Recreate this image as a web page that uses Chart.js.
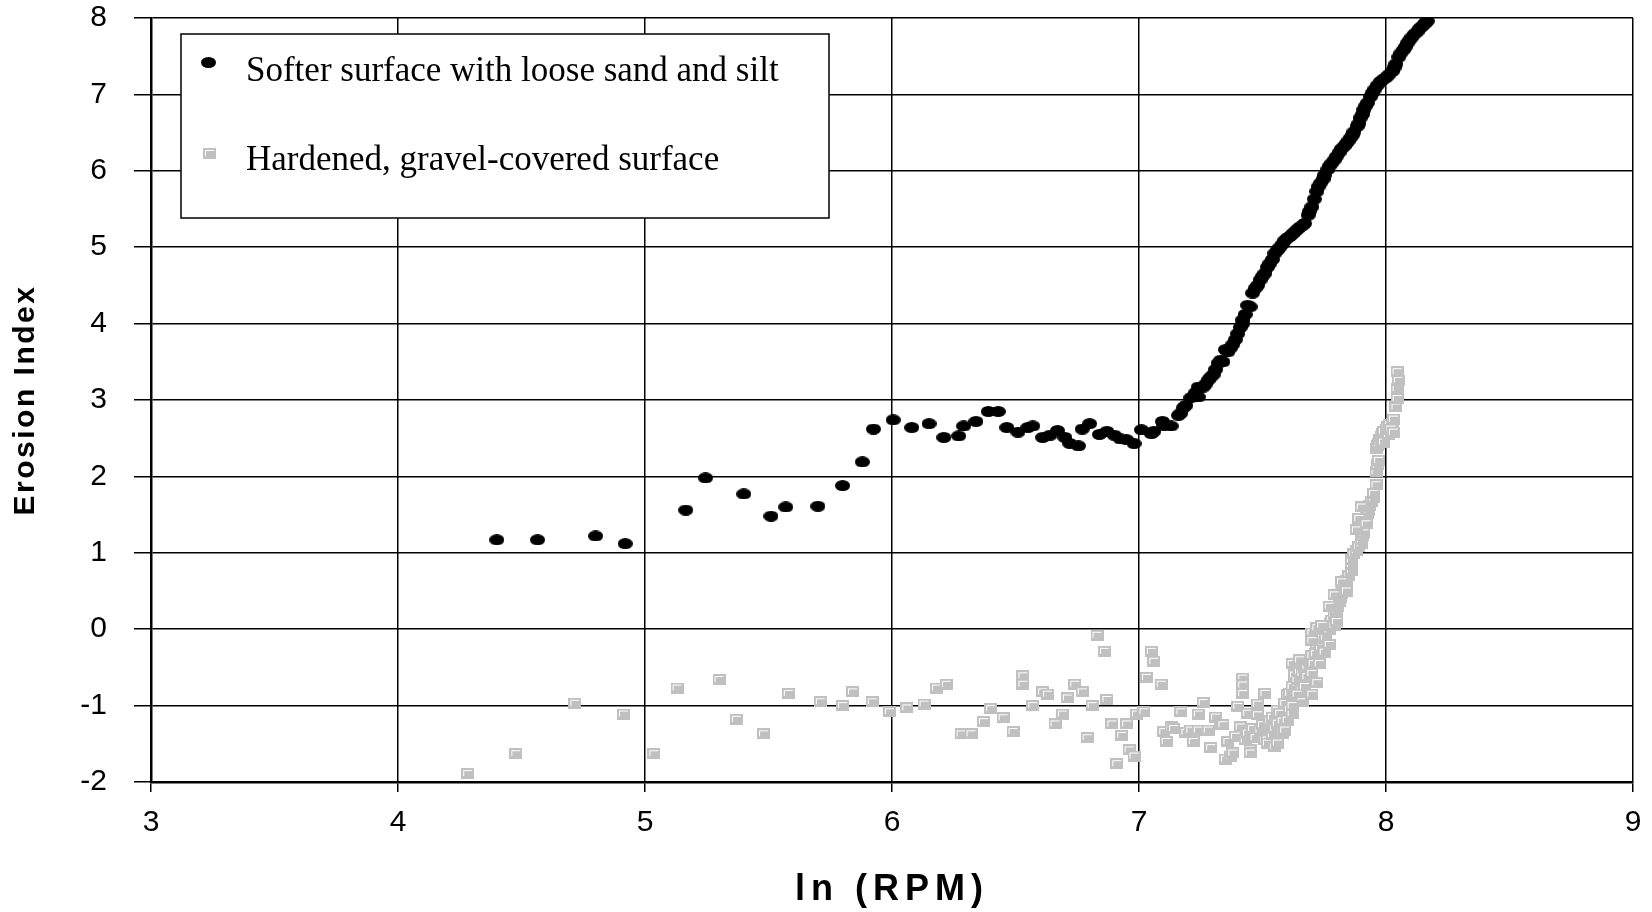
<!DOCTYPE html>
<html>
<head>
<meta charset="utf-8">
<script src="https://cdn.jsdelivr.net/npm/chart.js@4.4.1/dist/chart.umd.min.js"></script>
<style>
  html, body { margin: 0; padding: 0; background: #fff; }
</style>
</head>
<body>
<canvas id="erosionChart" width="1652" height="912"></canvas>
<script>
// series names (legend)
const seriesNames = ['Softer surface with loose sand and silt', 'Hardened, gravel-covered surface'];

// softer surface: ln(RPM) and erosion index
const softX = [4.40, 4.565, 4.80, 4.92, 5.165, 5.245, 5.40, 5.51, 5.57, 5.70, 5.80, 5.88, 5.925, 6.005, 6.08, 6.15,
  6.21, 6.27, 6.29, 6.34, 6.39, 6.43, 6.465, 6.51, 6.55, 6.57, 6.61, 6.64, 6.67, 6.70, 6.72, 6.755, 6.77, 6.80,
  6.84, 6.87, 6.90, 6.925, 6.95, 6.98, 7.01, 7.05, 7.06, 7.095, 7.10, 7.13, 7.16, 7.17, 7.18, 7.19, 7.21, 7.22,
  7.24, 7.24, 7.26, 7.28, 7.30, 7.32, 7.34, 7.36, 7.37, 7.39, 7.40, 7.42, 7.42, 7.44, 7.45, 7.46, 7.48, 7.49,
  7.51, 7.52, 7.54, 7.55, 7.57, 7.59, 7.61, 7.63, 7.65, 7.67, 7.685, 7.70, 7.71, 7.72, 7.735, 7.75, 7.765, 7.78,
  7.80, 7.82, 7.84, 7.856, 7.87, 7.883, 7.895, 7.91, 7.925, 7.937, 7.955, 7.978, 8.00, 8.025, 8.04, 8.052, 8.07,
  8.086, 8.105, 8.126, 8.145, 8.16, 8.167,
  7.23, 7.27, 7.29, 7.31, 7.33, 7.35, 7.38, 7.41, 7.43, 7.47, 7.50, 7.53, 7.56, 7.58, 7.60, 7.62, 7.64, 7.66,
  7.69, 7.725, 7.745, 7.77, 7.79, 7.81, 7.83, 7.85, 7.865, 7.89, 7.905, 7.918, 7.945, 7.965, 7.99, 8.012, 8.033,
  8.06, 8.078, 8.095, 8.115, 8.135, 8.155];
const softY = [1.17, 1.17, 1.22, 1.12, 1.56, 1.98, 1.77, 1.48, 1.60, 1.61, 1.88, 2.19, 2.62, 2.74, 2.64, 2.69,
  2.51, 2.53, 2.66, 2.72, 2.85, 2.85, 2.64, 2.58, 2.64, 2.66, 2.51, 2.54, 2.60, 2.51, 2.43, 2.40, 2.62, 2.69,
  2.55, 2.59, 2.54, 2.49, 2.48, 2.43, 2.61, 2.56, 2.59, 2.72, 2.67, 2.66, 2.80, 2.83, 2.90, 2.93, 3.03, 3.04,
  3.04, 3.17, 3.17, 3.26, 3.33, 3.48, 3.50, 3.63, 3.68, 3.79, 3.87, 4.00, 4.05, 4.24, 4.22, 4.40, 4.50, 4.57,
  4.66, 4.74, 4.84, 4.92, 5.00, 5.09, 5.14, 5.20, 5.26, 5.31, 5.42, 5.53, 5.63, 5.73, 5.84, 5.94, 6.02, 6.10,
  6.19, 6.29, 6.36, 6.43, 6.51, 6.58, 6.69, 6.80, 6.89, 6.97, 7.07, 7.17, 7.22, 7.30, 7.40, 7.49, 7.58,
  7.67, 7.75, 7.82, 7.89, 7.94, 7.96,
  3.10, 3.21, 3.30, 3.40, 3.52, 3.66, 3.73, 3.95, 4.12, 4.46, 4.62, 4.79, 4.96, 5.04, 5.12, 5.17, 5.23, 5.28,
  5.47, 5.79, 5.89, 6.06, 6.14, 6.24, 6.32, 6.40, 6.47, 6.62, 6.74, 6.85, 7.02, 7.12, 7.20, 7.26, 7.35,
  7.54, 7.62, 7.71, 7.79, 7.86, 7.92];

// hardened surface: ln(RPM) and erosion index
const hardX = [4.282, 4.477, 4.716, 4.913, 5.036, 5.13, 5.30, 5.37, 5.48, 5.58, 5.71, 5.80, 5.84, 5.92, 5.99, 6.06,
  6.13, 6.18, 6.22, 6.28, 6.32, 6.37, 6.40, 6.45, 6.49, 6.53, 6.53, 6.57, 6.61, 6.63, 6.66, 6.69, 6.71, 6.74,
  6.77, 6.79, 6.81, 6.83, 6.86, 6.87, 6.89, 6.91, 6.93, 6.95, 6.96, 6.98, 6.99, 7.02, 7.03, 7.05, 7.06, 7.09,
  7.10, 7.11, 7.13, 7.14, 7.17, 7.19, 7.21, 7.22, 7.24, 7.24, 7.26, 7.28, 7.29, 7.31, 7.33, 7.34, 7.35, 7.36,
  7.37, 7.38, 7.39, 7.40, 7.41, 7.42, 7.42, 7.42, 7.43, 7.44, 7.44, 7.45, 7.45, 7.46, 7.47, 7.48, 7.48, 7.49,
  7.50, 7.51, 7.51, 7.52, 7.52, 7.53, 7.54, 7.54, 7.55, 7.55, 7.56, 7.56, 7.56, 7.57, 7.58, 7.58, 7.59, 7.59,
  7.60, 7.60, 7.61, 7.61, 7.62, 7.62, 7.63, 7.63, 7.64, 7.64, 7.65, 7.66, 7.66, 7.67, 7.68, 7.68, 7.69, 7.70,
  7.705, 7.715, 7.72, 7.735, 7.74, 7.755, 7.76, 7.77, 7.775, 7.78, 7.79, 7.80, 7.805, 7.81, 7.815, 7.82, 7.825,
  7.83, 7.835, 7.84, 7.85, 7.86, 7.86, 7.86, 7.87, 7.88, 7.89, 7.90, 7.90, 7.905, 7.91, 7.92, 7.925, 7.93,
  7.935, 7.94, 7.95, 7.95, 7.96, 7.96, 7.965, 7.97, 7.96, 7.965, 7.97, 7.975, 7.98, 7.985, 7.99, 8.00, 8.005,
  8.015, 8.025, 8.03, 8.04, 8.045, 8.045, 8.05, 8.045,
  7.62, 7.65, 7.70, 7.73, 7.75, 7.77, 7.72, 7.67, 7.64, 7.66, 7.70, 7.62, 7.70, 7.72, 7.74, 7.79, 7.80, 7.70,
  7.77, 7.79, 7.84, 7.82, 7.88, 7.89, 7.90, 7.92, 7.99, 8.01, 8.02, 8.03];
const hardY = [-1.89, -1.63, -0.97, -1.11, -1.63, -0.77, -0.66, -1.18, -1.37, -0.84, -0.95, -1.00, -0.82, -0.95, -1.08, -1.03,
  -0.98, -0.77, -0.72, -1.37, -1.37, -1.21, -1.04, -1.16, -1.34, -0.61, -0.72, -1.00, -0.82, -0.85, -1.24, -1.11, -0.90, -0.72,
  -0.82, -1.42, -1.00, -0.08, -0.29, -0.92, -1.24, -1.76, -1.39, -1.24, -1.58, -1.66, -1.11, -1.08, -0.63, -0.29, -0.42, -0.72,
  -1.34, -1.47, -1.28, -1.30, -1.08, -1.35, -1.32, -1.47, -1.32, -1.11, -0.96, -1.32, -1.55, -1.15, -1.25, -1.25, -1.70, -1.47,
  -1.66, -1.62, -1.40, -1.01, -1.28, -0.64, -0.73, -0.84, -1.45, -1.10, -1.36, -1.58, -1.62, -1.30, -1.42, -0.98, -1.12, -1.32,
  -1.25, -0.84, -1.45, -1.45, -1.49, -1.20, -1.15, -1.38, -1.54, -1.30, -1.06, -1.23, -1.49, -1.10, -1.36, -1.20, -0.97, -1.32,
  -1.19, -0.86, -0.84, -1.05, -1.10, -0.75, -0.47, -0.60, -0.71, -0.66, -0.55, -0.58, -0.80, -0.50, -0.49, -0.62, -0.41, -0.35,
  -0.45, -0.32, -0.20, -0.23, -0.12, -0.10, 0.00, -0.01, 0.08, 0.12, 0.20, 0.25, 0.30, 0.36, 0.42, 0.47, 0.52,
  0.56, 0.60, 0.64, 0.70, 0.77, 0.85, 0.91, 0.99, 1.03, 1.08, 1.12, 1.17, 1.22, 1.26, 1.49, 1.52, 1.56,
  1.62, 1.67, 1.72, 1.78, 1.89, 2.06, 2.15, 2.21, 2.37, 2.40, 2.43, 2.48, 2.52, 2.56, 2.59, 2.62, 2.65,
  2.68, 2.69, 2.75, 2.91, 3.02, 3.15, 3.26, 3.37,
  -0.45, -0.40, -0.58, -0.45, -0.30, -0.20, -0.70, -0.75, -0.85, -0.95, -0.85, -1.00, -0.05, 0.02, 0.05, 0.05, 0.10, -0.15,
  0.30, 0.45, 0.50, 0.62, 1.30, 1.45, 1.60, 1.38, 2.45, 2.55, 2.62, 2.58];

// axis ticks
const xTicks = [3, 4, 5, 6, 7, 8, 9];
const yTicks = [-2, -1, 0, 1, 2, 3, 4, 5, 6, 7, 8];

const sans = '"Liberation Sans", Arial, sans-serif';
const serif = '"Liberation Serif", "Times New Roman", serif';

// marker images, like the Excel ones
function dotMarker() {
  const c = document.createElement('canvas');
  c.width = 15; c.height = 11;
  const g = c.getContext('2d');
  g.fillStyle = '#000';
  g.beginPath();
  g.ellipse(7.5, 5.5, 7.5, 5.5, 0, 0, Math.PI * 2);
  g.fill();
  return c;
}
function squareMarker() {
  const c = document.createElement('canvas');
  c.width = 13; c.height = 11;
  const g = c.getContext('2d');
  g.fillStyle = '#c0c0c0';
  g.fillRect(0, 0, 13, 11);
  g.fillStyle = '#fff';
  g.fillRect(2, 2, 9, 1);
  g.fillRect(2, 2, 1, 6);
  return c;
}
const dot = dotMarker();
const square = squareMarker();

// letter spacing for axis titles
const titleSpacing = { x: '6px', y: '2.5px' };
const spacedTitles = {
  id: 'spacedTitles',
  beforeDraw(chart) {
    Object.values(chart.scales).forEach(s => {
      if (s._spaced) return;
      const orig = s.drawTitle;
      s.drawTitle = function () {
        this.ctx.save();
        this.ctx.letterSpacing = titleSpacing[this.id] || '0px';
        orig.call(this);
        this.ctx.restore();
      };
      s._spaced = true;
    });
  }
};

// boxed legend inside the plot
const legendBox = {
  id: 'legendBox',
  afterDatasetsDraw(chart) {
    const ctx = chart.ctx;
    ctx.save();
    ctx.fillStyle = '#fff';
    ctx.fillRect(181, 34, 648, 184);
    ctx.strokeStyle = '#000';
    ctx.lineWidth = 1.5;
    ctx.strokeRect(181, 34, 648, 184);
    ctx.drawImage(dot, 208 - 7, 62 - 5);
    ctx.drawImage(square, 209 - 6, 153 - 5);
    ctx.fillStyle = '#000';
    ctx.font = '35px ' + serif;
    ctx.textBaseline = 'alphabetic';
    ctx.textAlign = 'left';
    ctx.fillText(seriesNames[0], 246, 81);
    ctx.fillText(seriesNames[1], 246, 170);
    ctx.restore();
  }
};

function noPad(s) {
  s.paddingTop = 0; s.paddingBottom = 0; s.paddingLeft = 0; s.paddingRight = 0;
}

new Chart(document.getElementById('erosionChart'), {
  type: 'scatter',
  data: {
    datasets: [
      {
        label: seriesNames[0],
        data: softX.map((x, i) => ({ x: x, y: softY[i] })),
        pointStyle: dot,
        pointRadius: 6,
        pointHoverRadius: 6
      },
      {
        label: seriesNames[1],
        data: hardX.map((x, i) => ({ x: x, y: hardY[i] })),
        pointStyle: square,
        pointRadius: 6,
        pointHoverRadius: 6
      }
    ]
  },
  options: {
    responsive: false,
    animation: false,
    devicePixelRatio: 1,
    events: [],
    layout: { padding: { top: 18, right: 19, left: 0, bottom: 0 } },
    scales: {
      x: {
        type: 'linear',
        min: 3,
        max: 9,
        afterBuildTicks: s => { s.ticks = xTicks.map(v => ({ value: v })); },
        afterFit: s => { s.height = 130; noPad(s); },
        grid: { color: '#000', lineWidth: 1.5, tickLength: 10 },
        border: { color: '#000', width: 2.5 },
        ticks: { color: '#000', font: { family: sans, size: 30 }, padding: 13, maxRotation: 0 },
        title: {
          display: true,
          text: 'ln (RPM)',
          color: '#000',
          font: { family: sans, size: 36, weight: 'bold' },
          padding: { top: 0, bottom: 0 }
        }
      },
      y: {
        type: 'linear',
        min: -2,
        max: 8,
        afterBuildTicks: s => { s.ticks = yTicks.map(v => ({ value: v })); },
        afterFit: s => { s.width = 151; noPad(s); },
        grid: { color: '#000', lineWidth: 1.5, tickLength: 17 },
        border: { color: '#000', width: 2.5 },
        ticks: { color: '#000', font: { family: sans, size: 30 }, padding: 27 },
        title: {
          display: true,
          text: 'Erosion Index',
          color: '#000',
          font: { family: sans, size: 30, weight: 'bold' },
          padding: { top: 8, bottom: 0 }
        }
      }
    },
    plugins: {
      legend: { display: false },
      tooltip: { enabled: false }
    }
  },
  plugins: [spacedTitles, legendBox]
});
</script>
</body>
</html>
